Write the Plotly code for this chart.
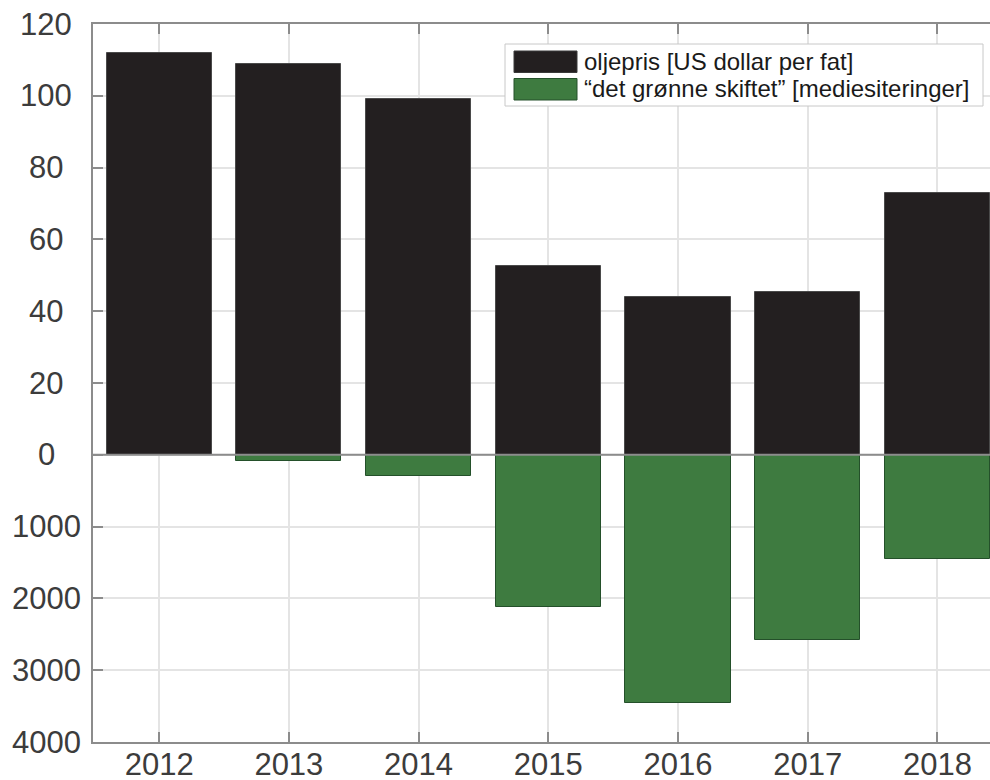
import plotly.graph_objects as go

# ---- data ----
years = [2012, 2013, 2014, 2015, 2016, 2017, 2018]
oil_price = [112.0, 108.8, 99.1, 52.6, 43.9, 45.4, 73.0]          # US dollar per fat
media_citations = [0, 90, 290, 2120, 3455, 2585, 1445]            # mediesiteringer
series_names = ["oljepris [US dollar per fat]",
                "\u201cdet gr\u00f8nne skiftet\u201d [mediesiteringer]"]
y_tick_labels = ["4000", "3000", "2000", "1000", "0", "20", "40", "60", "80", "100", "120"]

# lower half: 1000 citations occupy the same height as 20 dollars
MEDIA_SCALE = 20 / 1000
media_plot = [-m * MEDIA_SCALE for m in media_citations]
y_tick_vals = [-80, -60, -40, -20, 0, 20, 40, 60, 80, 100, 120]

W, H = 990, 780
ML, MR, MT, MB = 93, 0, 24, 38
PW, PH = W - ML - MR, H - MT - MB

def px(x):  # page pixel -> paper
    return (x - ML) / PW

def py(y):
    return (H - MB - y) / PH

BLACK = "#231f20"
GREEN = "#3e7b40"
AXIS = "#8c8c8c"
FONT = "Liberation Sans"
TICKFONT = dict(size=31, family=FONT, color="#3c3c3c")

fig = go.Figure()
fig.add_trace(go.Bar(x=years, y=oil_price, name=series_names[0], width=0.81,
                     marker=dict(color=BLACK, line=dict(color="#4a4a4a", width=1))))
fig.add_trace(go.Bar(x=years, y=media_plot, name=series_names[1], width=0.81,
                     marker=dict(color=GREEN, line=dict(color="#24502a", width=1))))

shapes = [
    # zero line above bars
    dict(type="line", xref="paper", yref="y", x0=0, x1=1, y0=0, y1=0,
         line=dict(color=AXIS, width=2), layer="above"),
    # legend box
    dict(type="rect", xref="paper", yref="paper", x0=px(505), x1=px(983), y0=py(106), y1=py(44),
         line=dict(color="#c8c8c8", width=1), fillcolor="white", layer="above"),
    dict(type="rect", xref="paper", yref="paper", x0=px(514), x1=px(577), y0=py(72.5), y1=py(51),
         line=dict(color="#3a3a3a", width=1), fillcolor=BLACK, layer="above"),
    dict(type="rect", xref="paper", yref="paper", x0=px(514), x1=px(577), y0=py(100), y1=py(78.5),
         line=dict(color="#24502a", width=1), fillcolor=GREEN, layer="above"),
]
annotations = [
    dict(xref="paper", yref="paper", x=px(582), y=py(61.5), text=series_names[0],
         showarrow=False, xanchor="left", yanchor="middle",
         font=dict(family=FONT, size=24, color="#1a1a1a")),
    dict(xref="paper", yref="paper", x=px(582), y=py(89), text=series_names[1],
         showarrow=False, xanchor="left", yanchor="middle",
         font=dict(family=FONT, size=24, color="#1a1a1a")),
]
# y tick labels, centred in the left margin as in the reference
for val, lab in zip(y_tick_vals, y_tick_labels):
    annotations.append(dict(xref="paper", yref="y", x=px(46), y=val, text=lab,
                            showarrow=False, xanchor="center", yanchor="middle",
                            font=TICKFONT))

fig.update_layout(
    width=W, height=H,
    margin=dict(l=ML, r=MR, t=MT, b=MB, pad=0, autoexpand=False),
    paper_bgcolor="white", plot_bgcolor="white",
    barmode="overlay", bargap=0,
    showlegend=False,
    font=dict(family=FONT, color="#3c3c3c"),
    shapes=shapes, annotations=annotations,
)
fig.update_xaxes(
    range=[2011.49, 2018.405], tickvals=years, ticktext=[str(y) for y in years],
    showgrid=True, gridcolor="#e4e4e4", gridwidth=1.5,
    showline=True, linecolor=AXIS, linewidth=1.5, mirror="ticks",
    ticks="inside", ticklen=10, tickcolor=AXIS, tickwidth=1.5,
    tickfont=TICKFONT,
    ticklabelstandoff=-6, automargin=False,
    zeroline=False,
)
fig.update_yaxes(
    range=[-80, 120], tickvals=y_tick_vals, ticktext=y_tick_labels,
    showticklabels=False,
    showgrid=True, gridcolor="#e4e4e4", gridwidth=1.5,
    showline=True, linecolor=AXIS, linewidth=1.5, mirror=False,
    ticks="inside", ticklen=10, tickcolor=AXIS, tickwidth=1.5,
    automargin=False,
    zeroline=False,
)

fig.write_html("out.html",
               config={"displayModeBar": False},
               post_script="document.body.style.margin='0';document.body.style.overflow='hidden';")
